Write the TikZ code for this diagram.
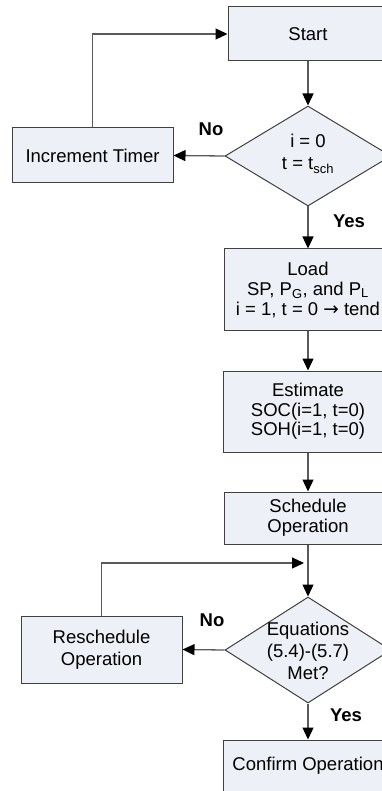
\documentclass[tikz,border=0pt]{standalone}
\usepackage{fontspec}
\setmainfont{Liberation Sans}
\newfontfamily\djv{DejaVu Sans}
\usetikzlibrary{shapes.geometric,arrows.meta}
\definecolor{boxfill}{HTML}{EDF0F6}
\definecolor{boxline}{HTML}{404040}
\definecolor{conline}{HTML}{5A5A5A}
\tikzset{
  box/.style={rectangle, draw=boxline, fill=boxfill, line width=1pt, inner sep=0pt, align=center,
    font=\fontsize{18.5}{20}\selectfont},
  dia/.style={diamond, draw=boxline, fill=boxfill, line width=1pt, inner sep=0pt},
  diatext/.style={align=center, font=\fontsize{18.5}{22}\selectfont, inner sep=0pt},
  conn/.style={draw=conline, line width=1.3pt, -{Triangle[length=12pt,width=11pt,fill=black,color=black]}},
  lbl/.style={font=\fontsize{18.5}{20}\selectfont\bfseries, inner sep=0pt}
}
\begin{document}
\begin{tikzpicture}[x=1pt,y=-1pt]
\useasboundingbox (0,0) rectangle (382,791);
\clip (0,0) rectangle (382,791);
% nodes
\node[box, minimum width=160pt, minimum height=54pt] (start) at (308,34) {Start};
\node[dia, minimum width=166pt, minimum height=100pt] (d1) at (308,156) {};
\node[diatext] (d1t) at (308,154) {i = 0\\t = t\textsubscript{sch}};
\node[box, minimum width=161pt, minimum height=55pt] (inc) at (92.5,155.5) {Increment Timer};
\node[box, minimum width=168pt, minimum height=81pt, font=\fontsize{18.5}{20}\selectfont] (load) at (308,289.5) {Load\\SP, P\textsubscript{G}, and P\textsubscript{L}\\i = 1, t = 0 {\djv →} tend};
\node[box, minimum width=170pt, minimum height=81pt, font=\fontsize{18.5}{19.5}\selectfont] (est) at (308,411.5) {Estimate\\SOC(i=1, t=0)\\SOH(i=1, t=0)};
\node[box, minimum width=168pt, minimum height=52pt] (sched) at (308,518) {Schedule\\Operation};
\node[dia, minimum width=166pt, minimum height=106pt] (d2) at (308,650) {};
\node[diatext] (d2t) at (308,651) {Equations\\(5.4)-(5.7)\\Met?};
\node[box, minimum width=161pt, minimum height=67pt, font=\fontsize{18.5}{21.5}\selectfont] (resched) at (101.5,649.5) {Reschedule\\Operation};
\node[box, minimum width=170pt, minimum height=52pt] (confirm) at (308,766) {Confirm Operation};
\coordinate (j) at (304,563);
% labels
\node[lbl] (no1) at (211,129) {No};
\node[lbl] (yes1) at (349,221) {Yes};
\node[lbl] (no2) at (212,620) {No};
\node[lbl] (yes2) at (346,715) {Yes};
% connectors
\draw[conn] (start) -- (d1);
\draw[conn] (d1.west) -- (inc.east);
\draw[conn] (inc.north) |- (start.west);
\draw[conn] (d1.south) -- (load.north);
\draw[conn] (load) -- (est);
\draw[conn] (est) -- (sched);
\draw[conn] (sched.south) -- (d2.north);
\draw[conn] (resched.north) |- (j);
\draw[conn] (d2.west) -- (resched.east);
\draw[conn] (d2.south) -- (confirm.north);
\end{tikzpicture}
\end{document}
